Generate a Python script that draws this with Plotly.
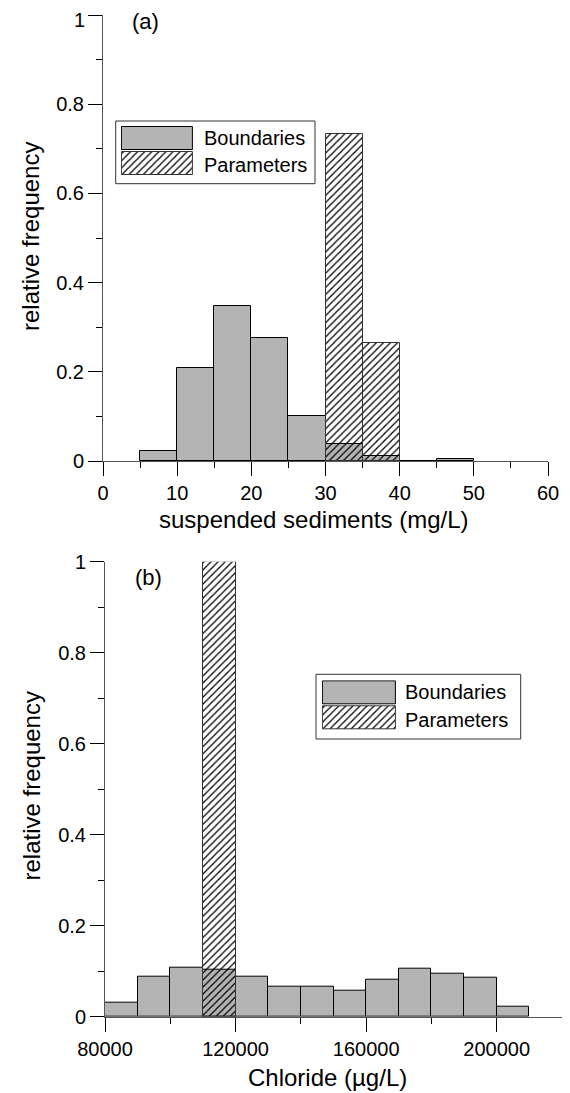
import plotly.graph_objects as go

# ---------------- data ----------------
# Panel (a): suspended sediments (mg/L)
bin_width_a = 5
bound_a_left = [5, 10, 15, 20, 25, 30, 35, 40, 45]
bound_a_freq = [0.022, 0.208, 0.347, 0.276, 0.100, 0.038, 0.012, 0.0, 0.004]
param_a_left = [30, 35]
param_a_freq = [0.733, 0.264]

# Panel (b): Chloride (µg/L)
bin_width_b = 10000
bound_b_left = [80000, 90000, 100000, 110000, 120000, 130000, 140000,
                150000, 160000, 170000, 180000, 190000, 200000]
bound_b_freq = [0.031, 0.088, 0.107, 0.103, 0.088, 0.066, 0.066,
                0.057, 0.082, 0.105, 0.094, 0.086, 0.022]
param_b_left = [110000]
param_b_freq = [1.0]

y_tickvals = [0, 0.2, 0.4, 0.6, 0.8, 1]
y_ticktext = ["0", "0.2", "0.4", "0.6", "0.8", "1"]

series_names = ["Boundaries", "Parameters"]
x_title_a = "suspended sediments (mg/L)"
x_title_b = "Chloride (µg/L)"
y_title = "relative frequency"

# ---------------- styling ----------------
OFF = 8                      # page (body) margin of the browser
W, H = 570 - OFF, 1093 - OFF  # figure size
FONT = "Liberation Sans, Arial, sans-serif"
GRAY = "#b4b4b4"
AXC = "#555555"


def px_x(p):
    return (p - OFF) / W


def px_y(p):
    return 1 - (p - OFF) / H


def centers(lefts, w):
    return [l + w / 2 for l in lefts]


gray_marker = dict(color=GRAY, line=dict(color="black", width=1))
hatch_marker = dict(color="black",
                    pattern=dict(shape="/", size=5, solidity=0.25,
                                 fgcolor="black", bgcolor="rgba(0,0,0,0)"),
                    line=dict(color="#333333", width=1))

fig = go.Figure()

# panel (a)
fig.add_trace(go.Bar(x=centers(bound_a_left, bin_width_a), y=bound_a_freq,
                     width=bin_width_a, marker=gray_marker, name=series_names[0],
                     xaxis="x", yaxis="y", showlegend=False))
fig.add_trace(go.Bar(x=centers(param_a_left, bin_width_a), y=param_a_freq,
                     width=bin_width_a, marker=hatch_marker, name=series_names[1],
                     xaxis="x", yaxis="y", showlegend=False))
# panel (b)
fig.add_trace(go.Bar(x=centers(bound_b_left, bin_width_b), y=bound_b_freq,
                     width=bin_width_b, marker=gray_marker, name=series_names[0],
                     xaxis="x2", yaxis="y2", showlegend=False))
fig.add_trace(go.Bar(x=centers(param_b_left, bin_width_b), y=param_b_freq,
                     width=bin_width_b, marker=hatch_marker, name=series_names[1],
                     xaxis="x2", yaxis="y2", showlegend=False))

# legend swatches (mini axes)
for xa, ya in (("x3", "y3"), ("x4", "y4")):
    fig.add_trace(go.Bar(x=[1], y=[1.5], width=0.92, orientation="h",
                         marker=gray_marker, xaxis=xa, yaxis=ya,
                         showlegend=False, hoverinfo="skip"))
    fig.add_trace(go.Bar(x=[1], y=[0.5], width=0.92, orientation="h",
                         marker=hatch_marker, xaxis=xa, yaxis=ya,
                         showlegend=False, hoverinfo="skip"))

tickfont = dict(family=FONT, size=20, color="black")


def xax(domain, rng, dtick, minor, anchor):
    return dict(domain=domain, range=rng, anchor=anchor, showline=True,
                linecolor=AXC, linewidth=1, ticks="outside", ticklen=14,
                tickcolor="black", tickwidth=1, dtick=dtick, tick0=rng[0],
                tickformat="d", showgrid=False, zeroline=False,
                automargin=False, tickfont=tickfont, ticklabeloverflow="allow",
                minor=dict(dtick=minor, ticks="outside", ticklen=6,
                           tickcolor="black", showgrid=False))


def yax(domain, anchor, ticktext):
    return dict(domain=domain, range=[0, 1], anchor=anchor, showline=True,
                linecolor=AXC, linewidth=1, ticks="outside", ticklen=14,
                tickcolor="black", tickwidth=1, tickmode="array",
                tickvals=y_tickvals, ticktext=ticktext,
                showgrid=False, zeroline=False, automargin=False,
                tickfont=tickfont, ticklabeloverflow="allow",
                minor=dict(tickmode="linear", dtick=0.1, tick0=0,
                           ticks="outside", ticklen=6,
                           tickcolor="black", showgrid=False))


def hidden(domain, rng, anchor):
    return dict(domain=domain, range=rng, visible=False, anchor=anchor,
                fixedrange=True, automargin=False)


# legend swatch geometry (screen pixels)
la_x0, la_x1, la_y0, la_y1 = 122.3, 193.3, 126, 176
lb_x0, lb_x1, lb_y0, lb_y1 = 323.3, 396, 680.3, 730.7

# top label of panel (a) is drawn separately (nudged down to stay on the page)
ticktext_a = y_ticktext[:-1] + [""]

fig.update_layout(
    template="none",
    width=W, height=H,
    margin=dict(l=0, r=0, t=0, b=0, pad=0),
    paper_bgcolor="white", plot_bgcolor="rgba(0,0,0,0)",
    font=dict(family=FONT, color="black"),
    barmode="overlay", bargap=0,
    showlegend=False,
    xaxis=xax([px_x(103), px_x(548)], [0, 60], 10, 5, "y"),
    yaxis=yax([px_y(461), px_y(15)], "x", ticktext_a),
    xaxis2=xax([px_x(105), px_x(562)], [80000, 220000], 40000, 20000, "y2"),
    yaxis2=yax([px_y(1016.7), px_y(561.7)], "x2", y_ticktext),
    xaxis3=hidden([px_x(la_x0 - 1.4), px_x(la_x1 + 1.4)], [-0.02, 1.02], "y3"),
    yaxis3=hidden([px_y(la_y1), px_y(la_y0)], [0, 2], "x3"),
    xaxis4=hidden([px_x(lb_x0 - 1.4), px_x(lb_x1 + 1.4)], [-0.02, 1.02], "y4"),
    yaxis4=hidden([px_y(lb_y1), px_y(lb_y0)], [0, 2], "x4"),
)

shapes = [
    dict(type="rect", xref="paper", yref="paper",
         x0=px_x(115.7), x1=px_x(315), y0=px_y(183.7), y1=px_y(121),
         line=dict(color="#333333", width=1), fillcolor="rgba(0,0,0,0)",
         layer="above"),
    dict(type="rect", xref="paper", yref="paper",
         x0=px_x(316), x1=px_x(520.7), y0=px_y(739), y1=px_y(674.3),
         line=dict(color="#333333", width=1), fillcolor="rgba(0,0,0,0)",
         layer="above"),
]


def ann(text, x, y, size, xanchor="center", angle=0):
    return dict(text=text, x=px_x(x), y=px_y(y), xref="paper", yref="paper",
                xanchor=xanchor, yanchor="middle", showarrow=False,
                textangle=angle, font=dict(family=FONT, size=size, color="black"))


annotations = [
    dict(text=y_ticktext[-1], x=0, y=y_tickvals[-1], xref="x", yref="y",
         xanchor="right", yanchor="middle", xshift=-16, yshift=-5,
         showarrow=False, font=tickfont),
    ann("(a)", 145, 21, 22),
    ann("(b)", 148, 577, 22),
    ann(x_title_a, 314, 519, 24),
    ann(x_title_b, 327, 1077, 24),
    ann(y_title, 31, 237, 24, angle=-90),
    ann(y_title, 31, 786.5, 24, angle=-90),
    ann(series_names[0], 201.7, 138, 20, xanchor="left"),
    ann(series_names[1], 201.7, 165, 20, xanchor="left"),
    ann(series_names[0], 403.3, 692, 20, xanchor="left"),
    ann(series_names[1], 403.3, 719.5, 20, xanchor="left"),
]

fig.update_layout(shapes=shapes, annotations=annotations)

fig.write_html("out.html")
